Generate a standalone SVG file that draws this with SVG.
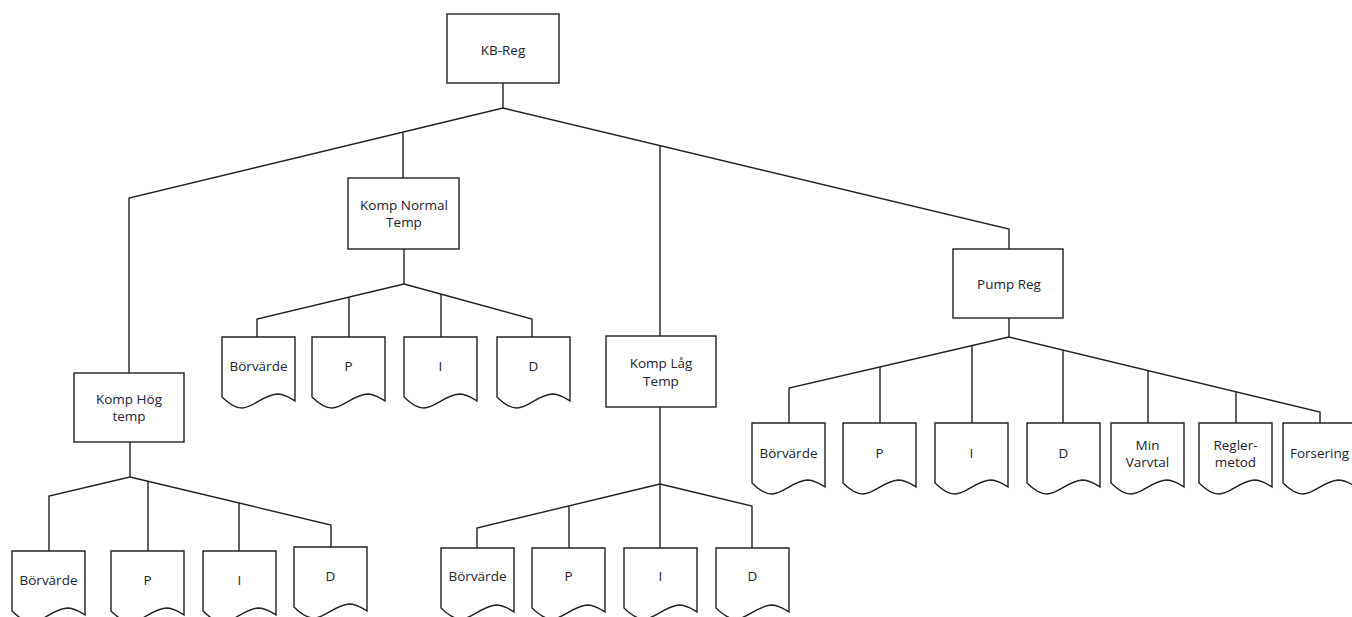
<svg xmlns="http://www.w3.org/2000/svg" xmlns:xlink="http://www.w3.org/1999/xlink" width="1352" height="617" viewBox="0 0 1352 617">
  <style>
    .box { fill: #ffffff; stroke: #222222; stroke-width: 1.4; }
    .doc { fill: #ffffff; stroke: #222222; stroke-width: 1.4; stroke-linejoin: miter; }
    .wire { fill: none; stroke: #222222; stroke-width: 1.4; stroke-linejoin: miter; }
    .t { font-family: "Open Sans", "Liberation Sans", sans-serif; font-size: 13.5px; fill: #23232f; text-anchor: middle; }
  </style>
  <defs>
    <!-- document shape: flat top, wavy bottom edge -->
    <path id="docShape" class="doc" d="M0,0 H73 V64 C68,61 63,57 55,57 C41,58 31,71 20,71 C14,71 8,68 0,60 Z"/>
  </defs>
  <rect width="1352" height="617" fill="#ffffff"/>

  <!-- connectors -->
  <g id="connectors" class="wire">
    <!-- root -->
    <path d="M503,83 V108"/>
    <path d="M503,108 L129,198 V373"/>
    <path d="M403,132 V178"/>
    <path d="M503,108 L1009,229 V249"/>
    <path d="M660,146 V336"/>
    <!-- Komp Normal Temp -->
    <path d="M404,249 V284"/>
    <path d="M404,284 L257,319 V337"/>
    <path d="M404,284 L532,319 V337"/>
    <path d="M349,297 V337"/>
    <path d="M441,294 V337"/>
    <!-- Komp Hög temp -->
    <path d="M130,442 V477"/>
    <path d="M130,477 L49,496 V551"/>
    <path d="M130,477 L331,525 V547"/>
    <path d="M148,481 V551"/>
    <path d="M239,503 V551"/>
    <!-- Komp Låg Temp -->
    <path d="M660,407 V548"/>
    <path d="M660,484 L477,528 V548"/>
    <path d="M660,484 L752,506 V548"/>
    <path d="M569,506 V548"/>
    <!-- Pump Reg -->
    <path d="M1009,318 V337"/>
    <path d="M1009,337 L789,388 V423"/>
    <path d="M1009,337 L1320,412 V423"/>
    <path d="M880,367 V423"/>
    <path d="M972,346 V423"/>
    <path d="M1063,350 V423"/>
    <path d="M1148,370 V423"/>
    <path d="M1236,391 V423"/>
  </g>

  <!-- process boxes -->
  <g id="kb-reg">
    <rect class="box" x="447" y="14" width="112" height="69"/>
    <text class="t" x="503" y="54.5">KB-Reg</text>
  </g>
  <g id="komp-normal-temp">
    <rect class="box" x="348" y="178" width="111" height="71"/>
    <text class="t" x="404" y="209.5">Komp Normal</text>
    <text class="t" x="404" y="226.5">Temp</text>
  </g>
  <g id="komp-hog-temp">
    <rect class="box" x="74" y="373" width="110" height="69"/>
    <text class="t" x="129" y="403.5">Komp Hög</text>
    <text class="t" x="129" y="420.5">temp</text>
  </g>
  <g id="komp-lag-temp">
    <rect class="box" x="606" y="336" width="110" height="71"/>
    <text class="t" x="661" y="367.5">Komp Låg</text>
    <text class="t" x="661" y="386">Temp</text>
  </g>
  <g id="pump-reg">
    <rect class="box" x="953" y="249" width="110" height="69"/>
    <text class="t" x="1009" y="288.5">Pump Reg</text>
  </g>

  <!-- Komp Normal Temp parameters -->
  <g id="normal-borvarde"><use xlink:href="#docShape" x="222" y="337"/><text class="t" x="258.5" y="370.5">Börvärde</text></g>
  <g id="normal-p"><use xlink:href="#docShape" x="312" y="337"/><text class="t" x="348.5" y="370.5">P</text></g>
  <g id="normal-i"><use xlink:href="#docShape" x="404" y="337"/><text class="t" x="440.5" y="370.5">I</text></g>
  <g id="normal-d"><use xlink:href="#docShape" x="497" y="337"/><text class="t" x="533.5" y="370.5">D</text></g>

  <!-- Komp Hög temp parameters -->
  <g id="hog-borvarde"><use xlink:href="#docShape" x="12" y="551"/><text class="t" x="48.5" y="584.5">Börvärde</text></g>
  <g id="hog-p"><use xlink:href="#docShape" x="111" y="551"/><text class="t" x="147.5" y="584.5">P</text></g>
  <g id="hog-i"><use xlink:href="#docShape" x="203" y="551"/><text class="t" x="239.5" y="584.5">I</text></g>
  <g id="hog-d"><use xlink:href="#docShape" x="294" y="547"/><text class="t" x="330.5" y="580.5">D</text></g>

  <!-- Komp Låg Temp parameters -->
  <g id="lag-borvarde"><use xlink:href="#docShape" x="441" y="548"/><text class="t" x="477.5" y="580.5">Börvärde</text></g>
  <g id="lag-p"><use xlink:href="#docShape" x="532" y="548"/><text class="t" x="568.5" y="580.5">P</text></g>
  <g id="lag-i"><use xlink:href="#docShape" x="624" y="548"/><text class="t" x="660.5" y="580.5">I</text></g>
  <g id="lag-d"><use xlink:href="#docShape" x="716" y="548"/><text class="t" x="752.5" y="580.5">D</text></g>

  <!-- Pump Reg parameters -->
  <g id="pump-borvarde"><use xlink:href="#docShape" x="752" y="423"/><text class="t" x="788.5" y="458">Börvärde</text></g>
  <g id="pump-p"><use xlink:href="#docShape" x="843" y="423"/><text class="t" x="879.5" y="458">P</text></g>
  <g id="pump-i"><use xlink:href="#docShape" x="935" y="423"/><text class="t" x="971.5" y="458">I</text></g>
  <g id="pump-d"><use xlink:href="#docShape" x="1027" y="423"/><text class="t" x="1063.5" y="458">D</text></g>
  <g id="pump-min-varvtal"><use xlink:href="#docShape" x="1111" y="423"/><text class="t" x="1147.5" y="449.5">Min</text><text class="t" x="1147.5" y="466.5">Varvtal</text></g>
  <g id="pump-reglermetod"><use xlink:href="#docShape" x="1199" y="423"/><text class="t" x="1235.5" y="449.5">Regler-</text><text class="t" x="1235.5" y="466.5">metod</text></g>
  <g id="pump-forsering"><use xlink:href="#docShape" x="1283" y="423"/><text class="t" x="1319.5" y="458">Forsering</text></g>
</svg>
